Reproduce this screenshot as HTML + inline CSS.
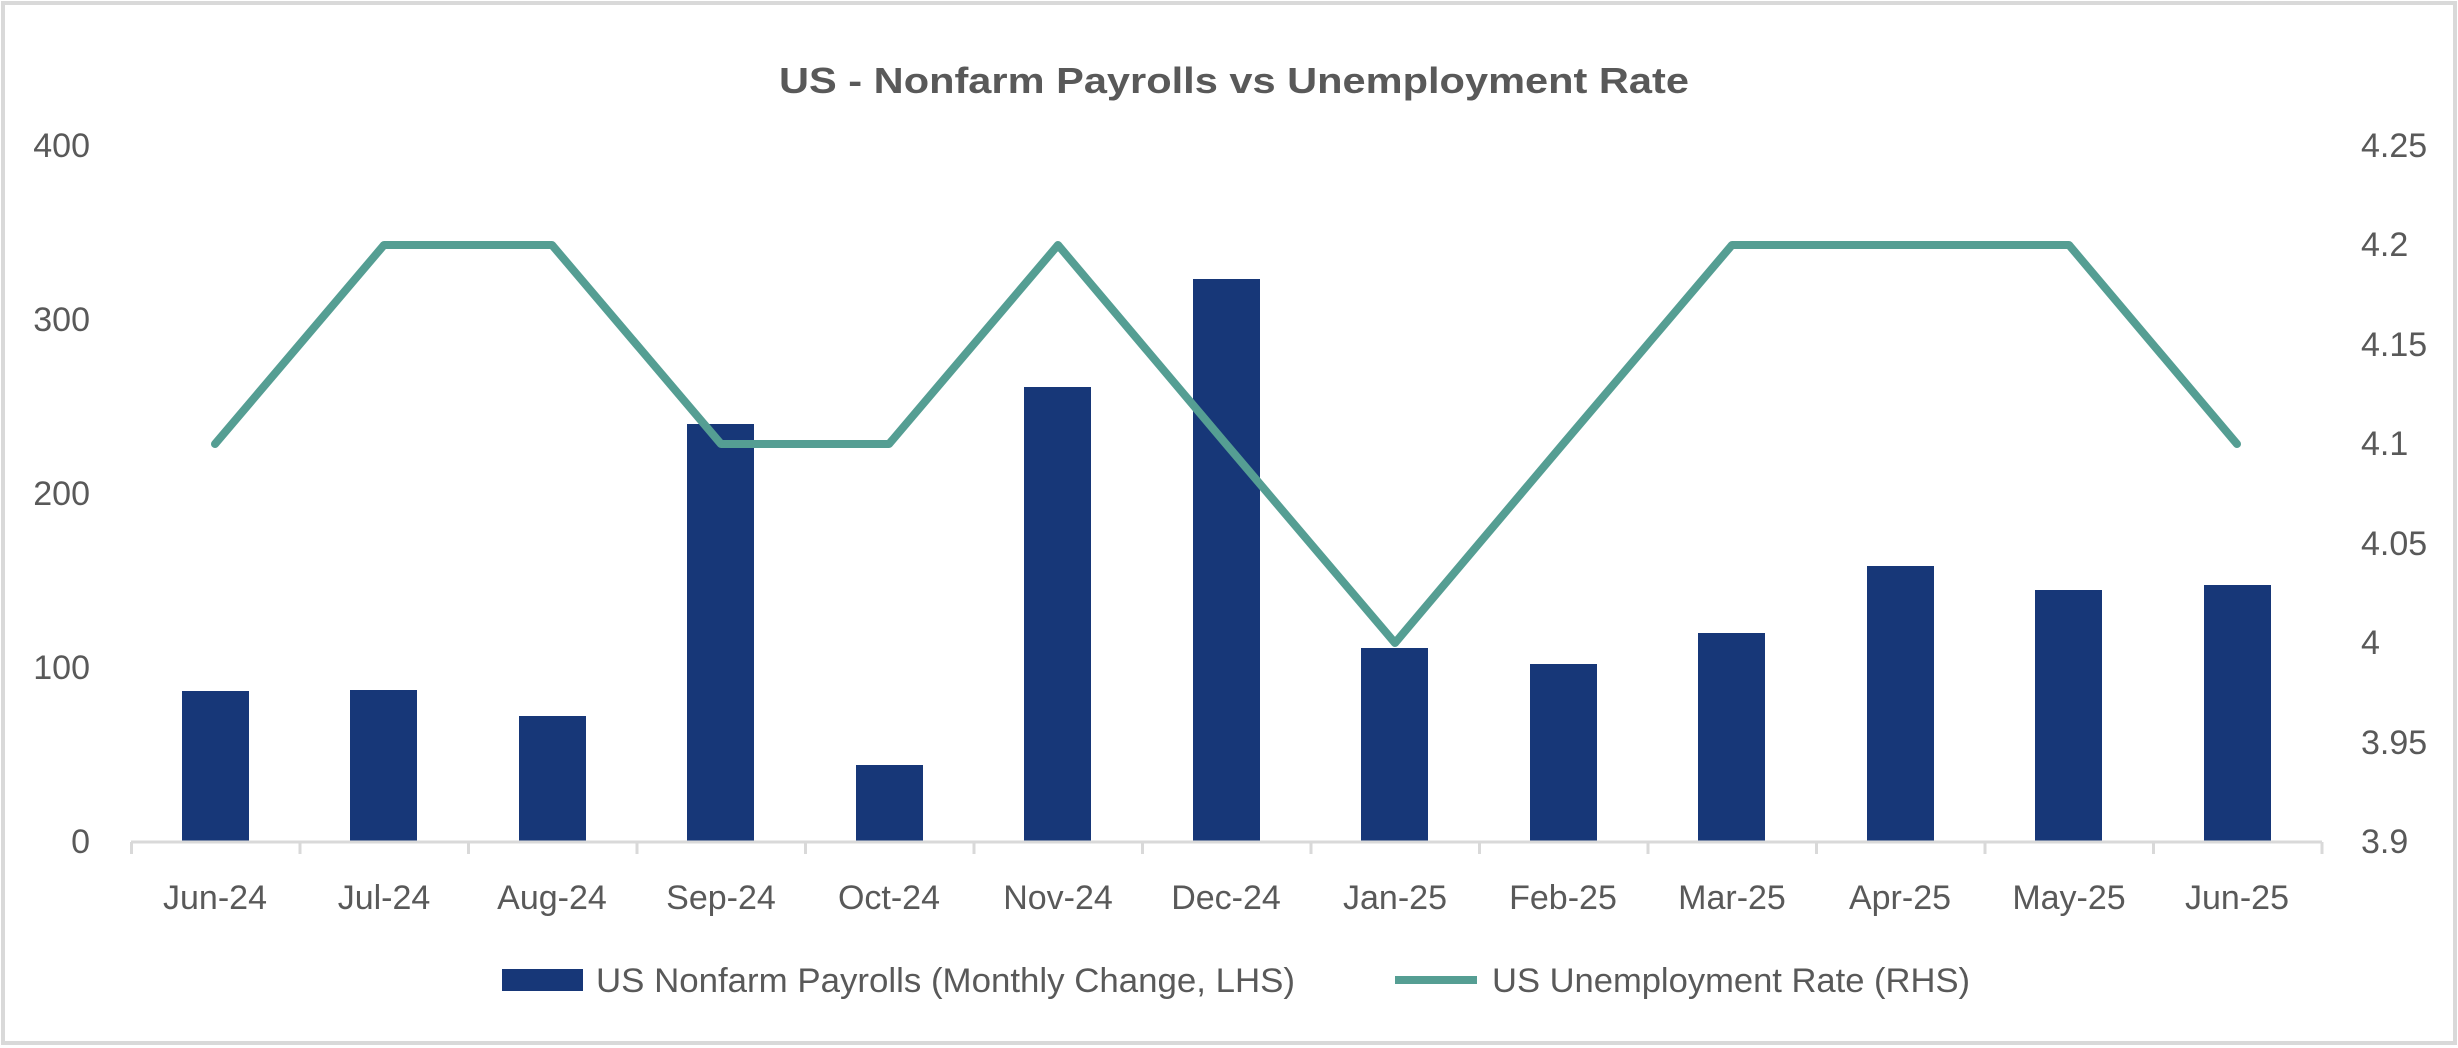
<!DOCTYPE html>
<html><head><meta charset="utf-8"><style>html,body{margin:0;padding:0;background:#fff}svg{display:block}</style></head>
<body>
<svg width="2458" height="1048" viewBox="0 0 2458 1048" xmlns="http://www.w3.org/2000/svg" font-family="'Liberation Sans', sans-serif">
<rect x="3" y="3" width="2452" height="1040" fill="#fff" stroke="#d9d9d9" stroke-width="4"/>
<text x="1234" y="93" text-anchor="middle" font-size="36" font-weight="bold" fill="#595959" textLength="910" lengthAdjust="spacingAndGlyphs">US - Nonfarm Payrolls vs Unemployment Rate</text>
<g font-size="34" fill="#595959" text-anchor="end">
<text x="90" y="157">400</text><text x="90" y="331">300</text><text x="90" y="505">200</text><text x="90" y="679">100</text><text x="90" y="853">0</text>
</g>
<g font-size="34" fill="#595959" text-anchor="start">
<text x="2361" y="157">4.25</text><text x="2361" y="256">4.2</text><text x="2361" y="356">4.15</text><text x="2361" y="455">4.1</text><text x="2361" y="555">4.05</text><text x="2361" y="654">4</text><text x="2361" y="754">3.95</text><text x="2361" y="853">3.9</text>
</g>
<g fill="#173778">
<rect x="182" y="691" width="67" height="150"/>
<rect x="350" y="690" width="67" height="151"/>
<rect x="519" y="716" width="67" height="125"/>
<rect x="687" y="424" width="67" height="417"/>
<rect x="856" y="765" width="67" height="76"/>
<rect x="1024" y="387" width="67" height="454"/>
<rect x="1193" y="279" width="67" height="562"/>
<rect x="1361" y="648" width="67" height="193"/>
<rect x="1530" y="664" width="67" height="177"/>
<rect x="1698" y="633" width="67" height="208"/>
<rect x="1867" y="566" width="67" height="275"/>
<rect x="2035" y="590" width="67" height="251"/>
<rect x="2204" y="585" width="67" height="256"/>
</g>
<line x1="131" y1="842" x2="2322" y2="842" stroke="#d9d9d9" stroke-width="3"/>
<g stroke="#d9d9d9" stroke-width="3">
<line x1="131.5" y1="842" x2="131.5" y2="854"/><line x1="300" y1="842" x2="300" y2="854"/><line x1="468.5" y1="842" x2="468.5" y2="854"/><line x1="637" y1="842" x2="637" y2="854"/><line x1="805.5" y1="842" x2="805.5" y2="854"/><line x1="974" y1="842" x2="974" y2="854"/><line x1="1142.5" y1="842" x2="1142.5" y2="854"/><line x1="1311" y1="842" x2="1311" y2="854"/><line x1="1479.5" y1="842" x2="1479.5" y2="854"/><line x1="1648" y1="842" x2="1648" y2="854"/><line x1="1816.5" y1="842" x2="1816.5" y2="854"/><line x1="1985" y1="842" x2="1985" y2="854"/><line x1="2153.5" y1="842" x2="2153.5" y2="854"/><line x1="2322" y1="842" x2="2322" y2="854"/>
</g>
<polyline fill="none" stroke="#559e93" stroke-width="8" stroke-linejoin="round" stroke-linecap="round" points="215,444 384,245 552,245 721,444 889,444 1058,245 1226,444 1395,643 1563,444 1732,245 1900,245 2069,245 2237,444"/>
<g font-size="34" fill="#595959" text-anchor="middle">
<text x="215" y="909">Jun-24</text><text x="384" y="909">Jul-24</text><text x="552" y="909">Aug-24</text><text x="721" y="909">Sep-24</text><text x="889" y="909">Oct-24</text><text x="1058" y="909">Nov-24</text><text x="1226" y="909">Dec-24</text><text x="1395" y="909">Jan-25</text><text x="1563" y="909">Feb-25</text><text x="1732" y="909">Mar-25</text><text x="1900" y="909">Apr-25</text><text x="2069" y="909">May-25</text><text x="2237" y="909">Jun-25</text>
</g>
<rect x="502" y="969" width="81" height="22" fill="#173778"/>
<text x="596" y="992" font-size="34" fill="#595959" textLength="699" lengthAdjust="spacingAndGlyphs">US Nonfarm Payrolls (Monthly Change, LHS)</text>
<line x1="1395" y1="980" x2="1477" y2="980" stroke="#559e93" stroke-width="8"/>
<text x="1492" y="992" font-size="34" fill="#595959" textLength="478" lengthAdjust="spacingAndGlyphs">US Unemployment Rate (RHS)</text>
</svg>
</body></html>
